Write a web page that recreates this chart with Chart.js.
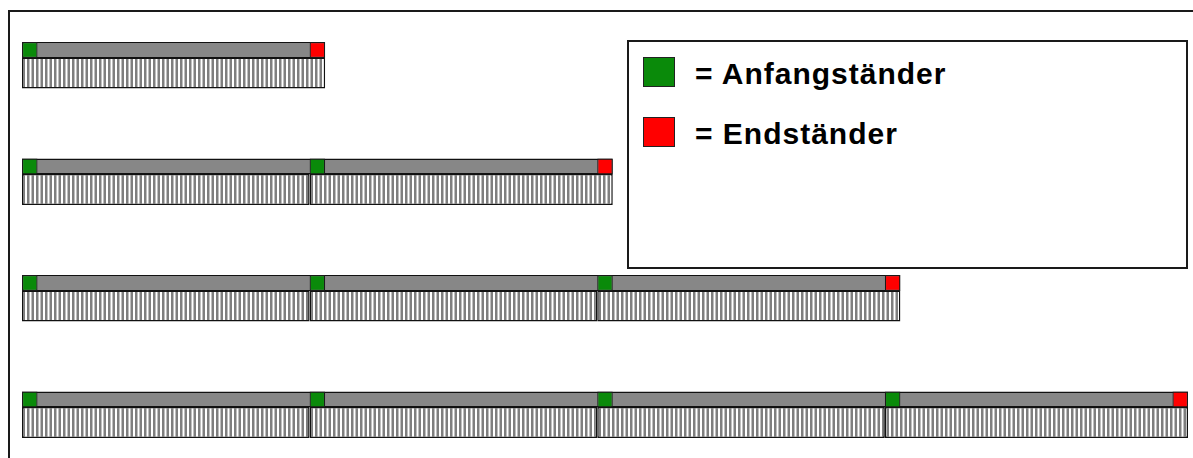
<!DOCTYPE html>
<html lang="de">
<head>
<meta charset="utf-8">
<title>Anfangständer / Endständer</title>
<script src="https://cdn.jsdelivr.net/npm/chart.js@4/dist/chart.umd.min.js"></script>
<style>
  html, body { margin: 0; padding: 0; background: #fff; }
  #wrap { position: relative; width: 1193px; height: 458px; overflow: hidden; }
  #frame {
    position: absolute; left: 8px; top: 10px; width: 1300px; height: 600px;
    border-left: 2px solid #1a1a1a; border-top: 2px solid #1a1a1a;
  }
  #chartBox { position: absolute; left: 0; top: 0; width: 1193px; height: 458px; }
  #legendBox {
    position: absolute; left: 627px; top: 40px; width: 557px; height: 225px;
    border: 2px solid #1a1a1a; background: #fff;
    font-family: "Liberation Sans", Arial, sans-serif; font-weight: bold;
    font-size: 30px; letter-spacing: 1px; color: #000;
  }
  .item { position: absolute; left: 14px; height: 30px; display: flex; align-items: center; }
  .item .txt { position: relative; top: 2px; }
  .swatch { width: 30px; height: 28px; border: 1px solid #222; margin-right: 20px; }
</style>
</head>
<body>
<div id="wrap">
  <div id="frame"></div>
  <div id="chartBox"><canvas id="shelfChart"></canvas></div>
  <div id="legendBox">
    <div class="item" style="top:15px"><span class="swatch" style="background:#0a8a0a"></span><span class="txt">= Anfangständer</span></div>
    <div class="item" style="top:75px"><span class="swatch" style="background:#ff0000"></span><span class="txt">= Endständer</span></div>
  </div>
</div>
<script>
// rows of shelving, number of fields per row
const rowLabels = ["1 Feld", "2 Felder", "3 Felder", "4 Felder"];
const fieldsPerRow = [1, 2, 3, 4];
const fieldLength = 1000; // mm per field
const standWidth = 54;    // mm per stand

// layout (pixels)
const H = 458;
const rowPitch = 116.5;
const bandCenter0 = 50;
const shelfDrop = 23;

const greenStands = [];
const redStands = [];
const bands = [];
const shelves = [];

fieldsPerRow.forEach((n, r) => {
  for (let i = 0; i < n; i++) {
    greenStands.push({ y: r, x: [i * fieldLength, i * fieldLength + standWidth] });
    const end = i === n - 1 ? n * fieldLength + standWidth : (i + 1) * fieldLength;
    shelves.push({ y: r, x: [i * fieldLength, end] });
  }
  redStands.push({ y: r, x: [n * fieldLength, n * fieldLength + standWidth] });
  bands.push({ y: r, x: [0, n * fieldLength + standWidth] });
});

// vertical hatch for the shelf boards
const pc = document.createElement("canvas");
pc.width = 9;
pc.height = 4;
const pctx = pc.getContext("2d");
pctx.fillStyle = "#ffffff";
pctx.fillRect(0, 0, 9, 4);
pctx.fillStyle = "#7e7e7e";
pctx.fillRect(0, 0, 2.5, 4);
pctx.fillRect(4.5, 0, 2.5, 4);
const hatch = document.getElementById("shelfChart").getContext("2d").createPattern(pc, "repeat");

const maxX = fieldsPerRow[fieldsPerRow.length - 1] * fieldLength + standWidth;

const common = { grouped: false, borderSkipped: false, inflateAmount: 0 };

const ctx = document.getElementById("shelfChart").getContext("2d");
const shelfChart = new Chart(ctx, {
  type: "bar",
  data: {
    labels: rowLabels,
    datasets: [
      Object.assign({ label: "Anfangständer", data: greenStands, yAxisID: "yBand",
        backgroundColor: "#0a8a0a", borderColor: "#1a1a1a", borderWidth: 1.2, barThickness: 16 }, common),
      Object.assign({ label: "Endständer", data: redStands, yAxisID: "yBand",
        backgroundColor: "#ff0000", borderColor: "#1a1a1a", borderWidth: 1.2, barThickness: 16 }, common),
      Object.assign({ label: "Traverse", data: bands, yAxisID: "yBand",
        backgroundColor: "#878787", borderColor: "#111111", borderWidth: 1.5, barThickness: 16 }, common),
      Object.assign({ label: "Fachboden", data: shelves, yAxisID: "yShelf",
        backgroundColor: hatch, borderColor: "#111111", borderWidth: 1.5, barThickness: 31 }, common),
    ],
  },
  options: {
    indexAxis: "y",
    responsive: true,
    maintainAspectRatio: false,
    animation: false,
    events: [],
    layout: { padding: { left: 22, right: 5, top: 0, bottom: 0 } },
    scales: {
      x: { type: "linear", display: false, offset: false, min: 0, max: maxX },
      yBand: {
        type: "linear", display: false, reverse: true, offset: false,
        min: -bandCenter0 / rowPitch, max: (H - bandCenter0) / rowPitch,
      },
      yShelf: {
        type: "linear", display: false, reverse: true, offset: false,
        min: -(bandCenter0 + shelfDrop) / rowPitch, max: (H - bandCenter0 - shelfDrop) / rowPitch,
      },
    },
    plugins: {
      legend: { display: false },
      tooltip: { enabled: false },
    },
  },
});
</script>
</body>
</html>
